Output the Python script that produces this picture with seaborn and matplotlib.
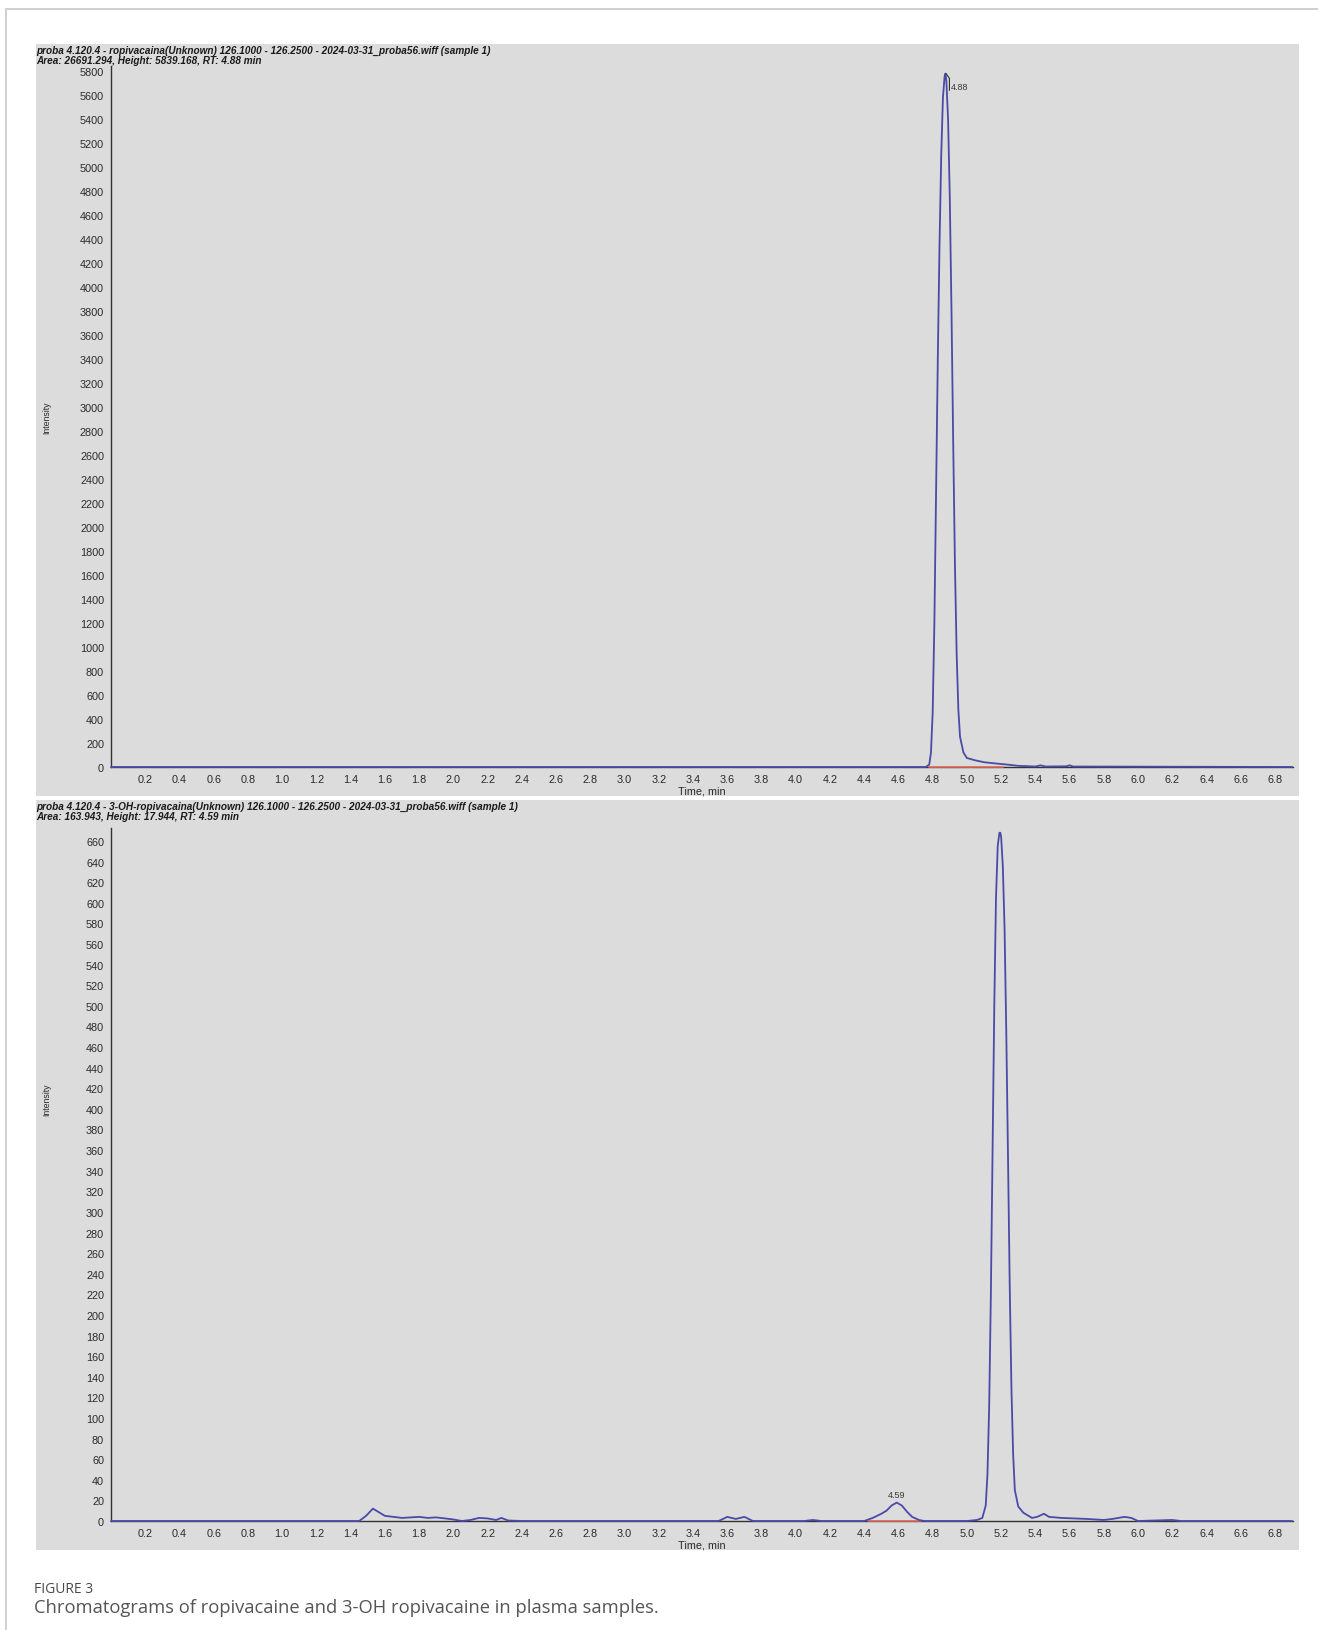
import matplotlib
matplotlib.use("Agg")
import matplotlib.pyplot as plt
import seaborn as sns
import numpy as np
import pandas as pd
from matplotlib.patches import Rectangle
from matplotlib.lines import Line2D
from matplotlib.ticker import MultipleLocator, FixedLocator

# ---------------- data ----------------
top_title1 = "proba 4.120.4 - ropivacaina(Unknown) 126.1000 - 126.2500 - 2024-03-31_proba56.wiff (sample 1)"
top_title2 = "Area: 26691.294, Height: 5839.168, RT: 4.88 min"
bot_title1 = "proba 4.120.4 - 3-OH-ropivacaina(Unknown) 126.1000 - 126.2500 - 2024-03-31_proba56.wiff (sample 1)"
bot_title2 = "Area: 163.943, Height: 17.944, RT: 4.59 min"

top_time = [0.00, 4.76, 4.78, 4.79, 4.80, 4.81, 4.82, 4.83, 4.84, 4.85, 4.86, 4.87, 4.875,
            4.88, 4.89, 4.90, 4.91, 4.92, 4.93, 4.94, 4.95, 4.96, 4.98, 5.00, 5.05, 5.10,
            5.15, 5.20, 5.25, 5.30, 5.40, 5.43, 5.46, 5.58, 5.60, 5.62, 6.90]
top_int = [0, 0, 20, 120, 450, 1200, 2300, 3400, 4350, 5100, 5580, 5760, 5780,
           5720, 5400, 4750, 3800, 2700, 1700, 950, 480, 250, 120, 75, 55, 40,
           32, 25, 18, 10, 4, 14, 4, 6, 14, 4, 0]

bot_time = [0.00, 1.45, 1.49, 1.53, 1.57, 1.60, 1.65, 1.70, 1.75, 1.80, 1.85, 1.90, 1.95,
            2.00, 2.05, 2.10, 2.15, 2.20, 2.25, 2.28, 2.32, 2.40, 3.55, 3.60, 3.65, 3.70,
            3.75, 4.05, 4.10, 4.15, 4.40, 4.45, 4.50, 4.53, 4.56, 4.59, 4.62, 4.65, 4.68,
            4.72, 4.75, 5.00, 5.06, 5.09, 5.11, 5.12, 5.13, 5.14, 5.15, 5.16, 5.17, 5.18,
            5.19, 5.195, 5.20, 5.21, 5.22, 5.23, 5.24, 5.25, 5.26, 5.27, 5.28, 5.30, 5.33,
            5.38, 5.41, 5.45, 5.48, 5.55, 5.70, 5.80, 5.85, 5.92, 5.96, 6.00, 6.20, 6.25,
            6.90]
bot_int = [0, 0, 5, 12, 8, 5, 4, 3, 3.5, 4, 3, 3.5, 2.5,
           1.5, 0, 1, 3, 2.5, 1, 3, 0.5, 0, 0, 4, 2, 4,
           0, 0, 1, 0, 0, 3, 7, 10, 15, 17.9, 15, 9, 4,
           1, 0, 0, 1, 3, 15, 45, 110, 220, 360, 500, 605, 655,
           668, 668, 664, 635, 575, 475, 355, 230, 130, 65, 30, 14, 8,
           3, 4, 7, 4, 3, 2, 1, 2, 4, 3, 0, 1, 0,
           0]

top_yticks = list(range(0, 5801, 200))
bot_yticks = list(range(0, 661, 20))
x_ticks = [round(0.2 * i, 1) for i in range(1, 35)]

top_base = ([4.78, 5.21], [0, 0])
bot_base = ([4.42, 4.73], [0, 0])

# ---------------- styling ----------------
sns.set_theme(style="white")
narrow = ["Liberation Sans Narrow", "Liberation Sans", "DejaVu Sans"]
plt.rcParams["font.family"] = narrow

W, H = 1318, 1631
fig = plt.figure(figsize=(W / 100, H / 100), dpi=100)
fig.patch.set_facecolor("white")

panel_c = "#dcdcdc"
line_c = "#4a4aa8"
ink = "#2a2a2a"

def fx(px):
    return px / W

def fy(py):
    return 1 - py / H

# grey panels (behind axes)
for (y0, y1) in [(45, 797), (801, 1551)]:
    fig.add_artist(Rectangle((fx(36), fy(y1)), fx(1299) - fx(36), fy(y0) - fy(y1),
                             transform=fig.transFigure, facecolor=panel_c,
                             edgecolor="none", zorder=-10))
# figure frame lines
fig.add_artist(Line2D([fx(6), fx(1318)], [fy(10), fy(10)], transform=fig.transFigure,
                      color="#cfcfcf", lw=1.4, zorder=-5))
fig.add_artist(Line2D([fx(6), fx(6)], [fy(10), fy(1631)], transform=fig.transFigure,
                      color="#cfcfcf", lw=1.4, zorder=-5))

left = fx(111)
width = fx(1293) - fx(111)
ax1 = fig.add_axes([left, fy(768), width, fy(67) - fy(768)])
ax2 = fig.add_axes([left, fy(1522), width, fy(829) - fy(1522)])

def style_axis(ax, yticks, ymax, yminor):
    ax.patch.set_alpha(0)
    ax.set_xlim(0, 6.905)
    ax.set_ylim(0, ymax)
    for s in ["top", "right"]:
        ax.spines[s].set_visible(False)
    for s in ["left", "bottom"]:
        ax.spines[s].set_color("#333333")
        ax.spines[s].set_linewidth(1.0)
    ax.xaxis.set_major_locator(FixedLocator(x_ticks))
    ax.xaxis.set_minor_locator(MultipleLocator(0.1))
    ax.yaxis.set_major_locator(FixedLocator(yticks))
    ax.yaxis.set_minor_locator(MultipleLocator(yminor))
    ax.set_xticklabels([f"{t:.1f}" for t in x_ticks])
    ax.set_yticklabels([str(t) for t in yticks])
    ax.tick_params(axis="both", which="major", direction="out", length=3, width=0.8,
                   color="#333333", labelsize=7.8, labelcolor=ink, pad=2)
    ax.tick_params(axis="both", which="minor", direction="out", length=1.5, width=0.8,
                   color="#333333")
    ax.grid(False)

df_top = pd.DataFrame({"Time, min": top_time, "Intensity": top_int})
df_bot = pd.DataFrame({"Time, min": bot_time, "Intensity": bot_int})

style_axis(ax1, top_yticks, 5843, 100)
style_axis(ax2, bot_yticks, 672.6, 10)

ax1.plot(*top_base, color="#e06a5a", lw=1.2, zorder=3, clip_on=False)
ax2.plot(*bot_base, color="#e06a5a", lw=1.2, zorder=3, clip_on=False)
sns.lineplot(data=df_top, x="Time, min", y="Intensity", ax=ax1, color=line_c, lw=1.3,
             estimator=None, sort=False, zorder=4, clip_on=False)
sns.lineplot(data=df_bot, x="Time, min", y="Intensity", ax=ax2, color=line_c, lw=1.3,
             estimator=None, sort=False, zorder=4, clip_on=False)
for ax, ly in ((ax1, 0.5), (ax2, 0.61)):
    ax.set_xlabel("Time, min", fontsize=7.8, color=ink, labelpad=1)
    ax.set_ylabel("Intensity", fontsize=6.3, color=ink)
    ax.yaxis.set_label_coords(-0.0508, ly)

# peak labels
ax1.plot([4.878, 4.898, 4.898], [5780, 5740, 5640], color="#333333", lw=0.8, zorder=5)
ax1.text(4.905, 5675, "4.88", fontsize=6.5, color="#3a3a3a", va="center", ha="left",
         family=["Liberation Sans", "DejaVu Sans"])
ax2.text(4.59, 21, "4.59", fontsize=6.5, color="#3a3a3a", va="bottom", ha="center",
         family=["Liberation Sans", "DejaVu Sans"])

# headers
hdr = dict(fontsize=7.2, fontweight="bold", fontstyle="italic", color="#1a1a1a",
           ha="left", va="center", family=narrow)
fig.text(fx(36), fy(51), top_title1, **hdr)
fig.text(fx(36), fy(61), top_title2, **hdr)
fig.text(fx(36), fy(807), bot_title1, **hdr)
fig.text(fx(36), fy(817), bot_title2, **hdr)

# caption
fig.text(fx(34), fy(1590), "FIGURE 3", fontsize=10, color="#4a4a4a", ha="left", va="center",
         family=["Open Sans", "DejaVu Sans"])
fig.text(fx(34), fy(1608), "Chromatograms of ropivacaine and 3-OH ropivacaine in plasma samples.",
         fontsize=13.2, color="#555555", ha="left", va="center", family=["Open Sans", "DejaVu Sans"])

fig.savefig("out.png", dpi=100)
